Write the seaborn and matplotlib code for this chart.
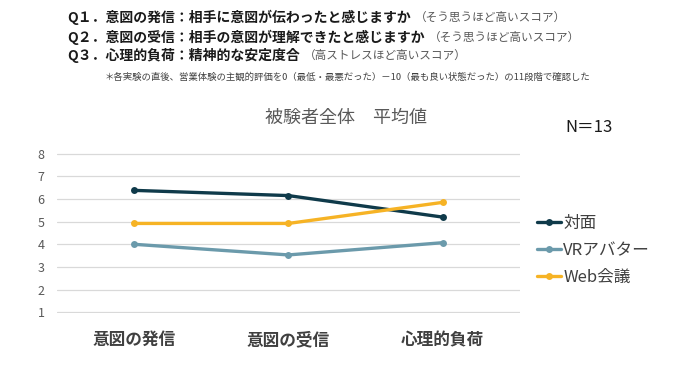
import pandas as pd
import matplotlib
matplotlib.use("Agg")
import matplotlib.pyplot as plt
import seaborn as sns

# データ（被験者全体の平均値）
categories = ["意図の発信", "意図の受信", "心理的負荷"]
series_names = ["対面", "VRアバター", "Web会議"]
face_to_face = [6.38, 6.15, 5.20]
vr_avatar = [4.00, 3.53, 4.07]
web_meeting = [4.92, 4.92, 5.85]
y_ticks = [1, 2, 3, 4, 5, 6, 7, 8]
colors = ["#0f3a4a", "#6b9aab", "#f6b325"]

df = pd.DataFrame({
    "項目": categories * 3,
    "条件": [s for s in series_names for _ in categories],
    "スコア": face_to_face + vr_avatar + web_meeting,
})

sns.set_style("white")
plt.rcParams["font.family"] = ["Noto Sans CJK JP", "DejaVu Sans"]

fig = plt.figure(figsize=(6.75, 3.66), dpi=100)
ax = fig.add_axes([0.0844, 0.145, 0.6856, 0.437])

sns.lineplot(
    data=df, x="項目", y="スコア", hue="条件", hue_order=series_names,
    palette=colors, marker="o", markersize=5, markeredgewidth=0,
    linewidth=2.4, sort=False, ax=ax, legend=True,
)

ax.set_xlim(-0.5, 2.5)
ax.set_ylim(0.97, 8.03)
ax.set_yticks(y_ticks)
ax.set_xlabel("")
ax.set_ylabel("")
ax.grid(axis="y", color="#d9d9d9", linewidth=0.9)
ax.set_axisbelow(True)
for sp in ax.spines.values():
    sp.set_visible(False)
ax.tick_params(axis="y", labelsize=9, labelcolor="#595959", length=0, pad=9)
ax.tick_params(axis="x", labelsize=12, labelcolor="#404040", length=0, pad=13)
for lbl in ax.get_xticklabels():
    lbl.set_fontweight("bold")

handles, labels = ax.get_legend_handles_labels()
ax.legend_.remove()
fig.legend(handles, labels, loc="upper left", bbox_to_anchor=(0.796, 0.413),
           frameon=False, fontsize=12, labelcolor="#404040",
           handlelength=1.4, handletextpad=0.15, labelspacing=0.6,
           borderaxespad=0, borderpad=0)

fig.text(346 / 675, 1 - 118 / 366, "被験者全体　平均値", ha="center", va="center",
         fontsize=13, color="#595959")
fig.text(589 / 675, 1 - 128 / 366, "N＝13", ha="center", va="center",
         fontsize=12, color="#1a1a1a")

# 上部の設問説明
questions = [
    ("Q１．意図の発信：相手に意図が伝わったと感じますか", "（そう思うほど高いスコア）"),
    ("Q２．意図の受信：相手の意図が理解できたと感じますか", "（そう思うほど高いスコア）"),
    ("Q３．心理的負荷：精神的な安定度合", "（高ストレスほど高いスコア）"),
]
line_y = [17, 37, 55]
for (main, note), y in zip(questions, line_y):
    t = fig.text(67 / 675, 1 - y / 366, main, ha="left", va="center",
                 fontsize=10, fontweight="bold", color="#1a1a1a")
    fig.canvas.draw()
    ax.annotate(note, xy=(1, 0.5), xycoords=t, xytext=(3, 0),
                textcoords="offset points", ha="left", va="center",
                fontsize=8.4, color="#595959", annotation_clip=False)

fig.text(105 / 675, 1 - 77 / 366,
         "＊各実験の直後、営業体験の主観的評価を0（最低・最悪だった）－10（最も良い状態だった）の11段階で確認した",
         ha="left", va="center", fontsize=6.75, color="#404040")

fig.savefig("out.png", dpi=100)
